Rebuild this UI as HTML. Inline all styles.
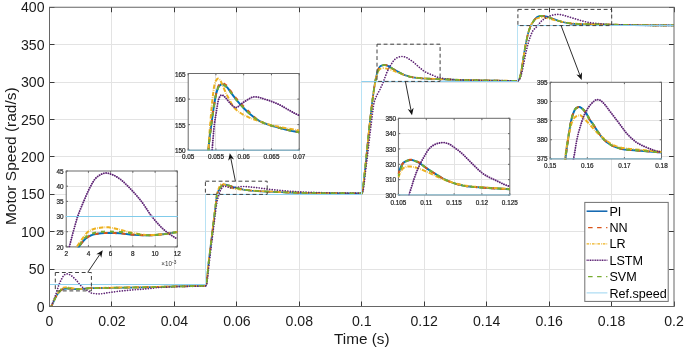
<!DOCTYPE html>
<html><head><meta charset="utf-8"><style>
html,body{margin:0;padding:0;background:#fff;}
body{width:685px;height:352px;position:relative;overflow:hidden;font-family:"Liberation Sans",sans-serif;}
</style></head><body>
<svg width="685" height="352" viewBox="0 0 685 352" style="position:absolute;left:0;top:0">
<defs>
<clipPath id="cm"><rect x="49.5" y="7.25" width="624.5" height="299.25"/></clipPath>
<clipPath id="c0"><rect x="65.60" y="170.40" width="112.30" height="77.10"/></clipPath>
<clipPath id="c1"><rect x="187.60" y="72.90" width="112.20" height="77.90"/></clipPath>
<clipPath id="c2"><rect x="397.80" y="117.70" width="112.60" height="77.90"/></clipPath>
<clipPath id="c3"><rect x="549.60" y="81.70" width="112.50" height="77.80"/></clipPath>
</defs>
<rect width="685" height="352" fill="#fff"/>
<line x1="111.50" y1="7.25" x2="111.50" y2="306.5" stroke="#e3e3e3" stroke-width="1"/>
<line x1="174.50" y1="7.25" x2="174.50" y2="306.5" stroke="#e3e3e3" stroke-width="1"/>
<line x1="236.50" y1="7.25" x2="236.50" y2="306.5" stroke="#e3e3e3" stroke-width="1"/>
<line x1="299.50" y1="7.25" x2="299.50" y2="306.5" stroke="#e3e3e3" stroke-width="1"/>
<line x1="361.50" y1="7.25" x2="361.50" y2="306.5" stroke="#e3e3e3" stroke-width="1"/>
<line x1="424.50" y1="7.25" x2="424.50" y2="306.5" stroke="#e3e3e3" stroke-width="1"/>
<line x1="486.50" y1="7.25" x2="486.50" y2="306.5" stroke="#e3e3e3" stroke-width="1"/>
<line x1="549.50" y1="7.25" x2="549.50" y2="306.5" stroke="#e3e3e3" stroke-width="1"/>
<line x1="611.50" y1="7.25" x2="611.50" y2="306.5" stroke="#e3e3e3" stroke-width="1"/>
<line x1="49.5" y1="269.50" x2="674.0" y2="269.50" stroke="#e3e3e3" stroke-width="1"/>
<line x1="49.5" y1="231.50" x2="674.0" y2="231.50" stroke="#e3e3e3" stroke-width="1"/>
<line x1="49.5" y1="194.50" x2="674.0" y2="194.50" stroke="#e3e3e3" stroke-width="1"/>
<line x1="49.5" y1="156.50" x2="674.0" y2="156.50" stroke="#e3e3e3" stroke-width="1"/>
<line x1="49.5" y1="119.50" x2="674.0" y2="119.50" stroke="#e3e3e3" stroke-width="1"/>
<line x1="49.5" y1="82.50" x2="674.0" y2="82.50" stroke="#e3e3e3" stroke-width="1"/>
<line x1="49.5" y1="44.50" x2="674.0" y2="44.50" stroke="#e3e3e3" stroke-width="1"/>
<g clip-path="url(#cm)" fill="none" stroke-linejoin="round">
<path d="M49.50,307.02L50.23,306.91L51.06,306.57L51.27,306.41L51.58,305.99L52.94,303.23L54.08,300.59L55.54,297.48L56.79,295.18L57.62,293.97L59.18,292.21L60.22,290.93L61.26,289.98L61.78,289.62L62.51,289.30L63.35,289.02L64.18,288.84L66.36,288.63L68.76,288.64L71.05,288.73L74.48,289.07L77.40,289.20L79.38,289.21L83.44,288.90L86.98,288.39L90.20,288.15L93.01,288.03L143.92,287.26L176.50,286.47L191.91,286.20L201.49,285.87L205.55,285.63L205.86,285.50L206.07,285.26L206.28,284.60L206.80,281.31L208.67,262.42L215.96,202.73L216.58,197.11L216.89,194.88L217.21,193.64L217.73,192.26L220.02,187.94L220.85,186.67L221.37,186.00L222.20,185.31L222.83,184.97L223.87,184.71L224.70,184.63L225.74,184.72L227.30,185.03L232.61,186.87L236.15,187.92L240.11,188.93L244.38,189.80L247.19,190.18L250.73,190.54L261.03,191.29L267.90,191.65L281.33,192.25L290.18,192.56L298.09,192.76L325.47,193.12L349.41,193.28L361.80,193.29L362.11,192.60L362.63,190.50L362.95,188.58L363.36,185.32L365.97,160.93L368.88,131.73L370.13,119.92L372.21,102.13L374.19,87.73L374.92,83.25L375.65,79.41L376.79,74.13L377.42,71.79L378.25,69.40L378.98,67.91L379.50,67.12L380.02,66.48L380.44,66.15L381.06,65.85L382.62,65.28L383.98,65.03L385.22,65.07L386.58,65.41L388.45,66.12L389.28,66.51L392.72,68.74L396.36,70.86L401.05,73.39L403.55,74.59L406.57,75.71L409.38,76.55L413.12,77.38L416.35,77.83L422.28,78.33L431.45,78.86L444.35,79.39L458.62,79.88L469.65,80.16L494.53,80.65L507.44,80.82L517.95,80.86L518.27,80.67L518.58,80.30L519.41,78.88L520.04,77.05L520.66,74.49L521.28,71.36L521.91,67.78L524.30,52.46L525.34,46.38L527.53,35.64L528.15,33.15L528.99,30.38L530.03,27.46L531.07,25.15L532.21,23.16L534.30,20.00L535.13,18.93L536.48,17.60L537.63,16.84L538.88,16.24L539.40,16.10L540.54,15.93L542.42,15.82L543.56,15.91L545.54,16.28L546.89,16.64L548.56,17.19L551.27,18.36L553.97,19.18L558.97,20.98L562.20,21.94L564.69,22.51L568.44,23.15L571.46,23.51L575.10,23.82L578.85,24.04L582.39,24.14L632.57,25.07L653.49,25.31L674.00,25.43" stroke="#0072BD" stroke-width="1.75"/>
<path d="M49.50,307.02L50.23,306.91L51.06,306.57L51.27,306.41L51.58,305.99L52.94,303.23L54.08,300.59L55.54,297.48L56.79,295.18L57.62,293.97L59.18,292.21L60.22,290.93L61.26,289.98L61.78,289.62L62.51,289.30L63.35,289.02L64.18,288.84L66.36,288.63L68.76,288.64L71.05,288.73L74.48,289.07L77.40,289.20L79.38,289.21L83.44,288.90L86.98,288.39L90.20,288.15L93.01,288.03L143.92,287.26L176.50,286.47L191.91,286.20L201.49,285.87L205.55,285.63L205.86,285.50L206.07,285.26L206.28,284.60L206.80,281.31L208.67,262.42L215.96,202.73L216.58,197.11L216.89,194.88L217.21,193.64L217.73,192.26L220.02,187.94L220.75,186.83L221.37,186.02L222.31,185.12L222.93,184.75L223.97,184.50L224.81,184.45L225.74,184.54L227.30,184.85L232.20,186.55L234.70,187.32L242.81,189.43L244.90,189.88L247.29,190.21L250.21,190.50L260.30,191.24L267.49,191.63L280.71,192.22L289.76,192.55L297.88,192.76L325.37,193.12L349.31,193.28L361.80,193.29L362.11,192.60L362.63,190.50L362.95,188.58L363.36,185.32L365.97,160.93L368.88,131.73L370.13,119.92L372.21,102.13L373.36,93.50L374.29,87.05L375.02,82.66L375.86,78.40L377.00,73.27L377.73,70.83L378.56,68.68L378.87,68.08L379.50,67.12L379.92,66.60L380.33,66.22L381.58,65.58L383.04,65.05L384.29,64.86L385.43,64.95L386.79,65.33L388.45,65.97L389.18,66.32L390.22,66.98L392.62,68.67L395.22,70.22L400.74,73.23L403.44,74.54L406.46,75.68L409.27,76.52L412.92,77.34L416.04,77.79L421.87,78.30L431.03,78.84L443.73,79.37L458.30,79.87L469.55,80.16L494.43,80.65L507.44,80.82L517.95,80.86L518.27,80.67L518.58,80.30L519.41,78.88L520.04,77.05L520.66,74.49L521.28,71.36L521.91,67.78L524.30,52.46L525.34,46.38L527.53,35.64L528.15,33.15L528.99,30.38L530.03,27.46L531.07,25.15L532.21,23.16L534.30,20.00L535.13,18.93L536.48,17.60L537.63,16.84L538.88,16.24L539.40,16.10L540.54,15.93L542.42,15.82L543.56,15.91L545.54,16.28L546.89,16.64L548.56,17.19L551.27,18.36L553.97,19.18L558.97,20.98L562.20,21.94L564.69,22.51L568.44,23.15L571.46,23.51L575.10,23.82L578.85,24.04L582.39,24.14L632.57,25.07L653.49,25.31L674.00,25.43" stroke="#D95319" stroke-width="1.75" stroke-dasharray="4.5 5"/>
<path d="M49.50,307.02L50.12,306.94L50.85,306.67L51.17,306.51L51.48,306.13L52.94,303.06L55.12,298.06L56.16,295.98L57.62,293.53L59.70,290.76L61.26,288.89L61.89,288.31L62.62,287.95L63.35,287.69L65.22,287.34L66.68,287.20L67.93,287.26L70.84,287.80L74.38,288.60L77.40,289.06L79.27,289.14L83.44,288.90L86.46,288.45L88.33,288.29L91.45,288.09L94.99,287.96L106.03,287.74L144.75,287.17L176.40,286.40L192.22,286.12L201.70,285.79L205.55,285.56L205.86,285.43L206.07,285.19L206.28,284.51L206.80,281.16L208.67,261.90L215.23,207.73L216.79,195.44L217.10,193.75L217.52,192.08L218.35,189.36L219.08,187.33L219.81,185.66L220.23,184.95L220.85,184.33L221.47,184.02L221.99,183.86L222.41,183.81L222.93,183.86L223.66,184.06L224.60,184.54L226.78,185.87L229.70,187.34L231.36,188.02L233.24,188.49L236.46,189.05L240.63,189.57L252.29,190.60L259.16,190.99L284.35,192.18L297.88,192.68L311.52,192.94L325.37,193.12L348.48,193.27L361.80,193.29L362.11,192.60L362.63,190.50L362.95,188.58L363.36,185.32L365.97,160.91L368.78,132.69L370.03,120.85L372.00,104.06L373.88,90.44L374.71,85.20L375.54,80.62L376.17,77.72L377.00,74.54L377.73,72.53L378.56,70.79L378.98,70.17L379.60,69.42L380.02,69.03L380.44,68.77L381.89,68.29L383.04,68.15L384.81,68.28L387.62,68.78L388.87,69.13L390.43,69.66L393.97,70.99L397.92,72.63L401.57,74.06L403.44,74.73L405.63,75.41L408.86,76.28L413.02,77.21L415.10,77.53L418.75,77.91L425.30,78.38L433.53,78.80L450.39,79.49L463.09,79.92L495.88,80.60L508.06,80.75L517.95,80.78L518.27,80.61L518.58,80.26L519.41,78.90L520.04,77.10L520.66,74.56L521.28,71.43L521.91,67.85L524.41,51.83L525.45,45.83L527.63,35.28L528.57,31.59L529.51,28.31L530.13,26.55L530.76,25.24L531.69,23.67L532.74,22.25L534.51,20.24L535.55,19.24L536.38,18.70L537.84,18.04L538.88,17.76L540.75,17.53L542.62,17.43L543.77,17.49L548.04,18.44L556.26,20.57L564.28,22.21L567.82,22.82L570.21,23.15L573.65,23.49L577.39,23.74L585.20,24.00L633.82,25.08L655.05,25.33L674.00,25.43" stroke="#EDB120" stroke-width="1.75" stroke-dasharray="4 1.5 1 1.5"/>
<path d="M49.50,307.02L50.23,306.87L51.06,306.43L51.27,306.21L51.58,305.63L52.73,302.45L54.50,298.05L55.64,294.99L56.79,291.48L58.24,286.65L58.87,284.82L59.81,282.62L61.78,278.57L63.03,276.40L63.87,275.30L64.49,274.78L65.12,274.40L65.95,274.03L66.68,273.87L67.09,273.85L67.61,273.93L68.65,274.23L69.59,274.61L70.84,275.32L72.30,276.41L74.48,278.38L76.46,280.38L77.40,281.45L79.48,284.19L80.83,285.65L82.50,287.25L84.06,288.47L87.18,290.25L89.89,292.27L91.04,292.91L91.66,293.11L93.43,293.44L96.45,293.83L98.95,293.93L101.45,293.79L104.15,293.42L111.02,292.22L122.06,290.88L129.24,290.19L145.48,288.98L155.16,287.86L158.49,287.54L167.97,287.01L180.67,286.52L196.07,286.25L200.86,286.11L205.55,285.86L205.96,285.66L206.38,285.23L206.59,284.64L206.90,283.16L207.32,280.34L209.29,262.22L215.75,210.38L216.37,205.73L216.89,202.47L217.31,200.42L217.93,197.97L219.70,192.25L220.23,190.78L220.75,189.78L222.31,187.31L222.93,186.71L223.45,186.42L224.29,186.20L225.53,186.31L227.10,186.74L229.49,187.50L231.26,187.93L232.30,188.05L233.55,187.94L236.57,187.29L241.15,186.58L243.02,186.46L245.63,186.56L255.41,187.44L266.86,189.05L278.11,190.22L290.49,191.27L301.84,191.94L315.37,192.53L327.14,192.87L349.21,193.17L360.55,193.23L361.91,193.19L362.11,193.00L362.43,192.52L362.74,191.93L362.95,191.33L363.36,189.41L363.88,185.97L365.55,171.67L367.32,157.31L370.23,132.16L372.84,110.77L373.67,104.75L374.29,101.68L375.02,99.47L376.48,96.09L378.04,92.96L380.02,89.38L382.73,83.43L383.56,81.38L385.02,77.24L386.68,72.81L387.62,70.64L388.76,68.32L390.43,65.40L393.66,60.60L394.70,59.44L395.53,58.67L396.36,58.12L397.61,57.47L398.45,57.14L399.28,56.91L400.94,56.59L402.19,56.48L403.03,56.52L403.96,56.68L405.52,57.09L406.15,57.34L406.98,57.80L410.42,59.97L412.81,61.64L414.16,62.76L419.58,67.53L422.18,69.72L423.64,70.87L424.89,71.71L426.45,72.56L428.43,73.50L432.28,75.06L436.03,76.66L438.32,77.49L440.29,77.97L445.19,78.81L449.98,79.42L454.14,79.75L459.97,80.00L470.07,80.30L481.73,80.51L503.07,80.73L517.95,80.79L518.27,80.67L518.68,80.33L519.72,79.02L520.35,77.69L521.08,75.50L521.80,72.74L522.64,69.07L525.76,53.39L527.11,47.40L528.36,42.68L529.09,40.24L530.86,35.12L532.11,32.15L532.84,30.85L533.67,29.74L534.51,28.85L536.48,27.06L537.32,26.22L538.04,25.32L540.13,22.43L541.58,20.93L543.46,19.39L545.85,17.78L547.52,16.89L549.70,16.02L551.27,15.51L552.93,15.07L556.26,14.43L557.82,14.37L560.32,14.54L561.68,14.80L564.38,15.48L581.14,20.66L583.02,21.17L586.35,21.94L589.78,22.60L593.74,23.16L599.78,23.79L605.50,24.30L609.04,24.53L612.48,24.68L629.34,25.10L654.22,25.40L674.00,25.50" stroke="#5E2475" stroke-width="1.7" stroke-dasharray="0.01 2.6" stroke-linecap="round"/>
<path d="M49.50,307.02L50.12,306.94L50.75,306.72L51.17,306.51L51.48,306.15L52.83,303.46L55.23,298.11L56.47,295.72L57.31,294.38L59.18,292.21L60.22,290.62L60.95,289.88L61.78,289.28L63.03,288.77L64.18,288.51L66.68,288.29L70.63,288.37L74.69,288.75L77.71,289.16L79.27,289.21L83.44,288.90L86.98,288.39L90.20,288.15L93.01,288.03L143.92,287.26L176.50,286.47L191.91,286.20L201.49,285.87L205.55,285.63L205.86,285.50L206.07,285.26L206.28,284.60L206.80,281.31L208.67,262.42L215.96,202.73L216.58,197.11L216.89,194.88L217.21,193.64L217.73,192.26L220.02,187.94L220.85,186.67L221.37,186.00L222.20,185.31L222.83,184.97L223.87,184.71L224.70,184.63L225.74,184.72L227.30,185.03L232.61,186.87L236.15,187.92L240.11,188.93L244.38,189.80L247.19,190.18L250.73,190.54L261.03,191.29L267.90,191.65L281.33,192.25L290.18,192.56L298.09,192.76L325.47,193.12L349.41,193.28L361.80,193.29L362.11,192.60L362.63,190.50L362.95,188.58L363.36,185.32L365.97,160.93L368.88,131.73L370.13,119.92L372.21,102.13L374.19,87.73L374.92,83.25L375.75,78.82L376.38,76.16L377.10,73.64L378.35,70.18L379.81,67.00L380.33,66.24L381.27,65.74L382.73,65.23L384.08,65.02L385.33,65.08L386.68,65.45L388.45,66.12L389.28,66.51L392.72,68.74L396.36,70.86L401.05,73.39L403.55,74.59L406.57,75.71L409.38,76.55L413.02,77.36L416.25,77.82L422.08,78.32L431.34,78.85L444.15,79.39L458.51,79.88L469.55,80.16L494.53,80.65L507.44,80.82L517.95,80.86L518.27,80.67L518.58,80.30L519.41,78.88L520.04,77.05L520.66,74.49L521.28,71.36L521.91,67.78L524.30,52.46L525.34,46.38L527.53,35.64L528.15,33.15L528.99,30.38L530.03,27.46L531.07,25.15L532.21,23.16L534.30,20.00L535.13,18.93L536.48,17.60L537.63,16.84L538.88,16.24L539.40,16.10L540.54,15.93L542.42,15.82L543.56,15.91L545.54,16.28L546.89,16.64L548.56,17.19L551.27,18.36L553.97,19.18L558.97,20.98L562.20,21.94L564.69,22.51L568.44,23.15L571.46,23.51L575.10,23.82L578.85,24.04L582.39,24.14L632.57,25.07L653.49,25.31L674.00,25.43" stroke="#77AC30" stroke-width="1.75" stroke-dasharray="4.5 5" stroke-dashoffset="1.5"/>
<path d="M205.5,284.5V194.5M361.5,194.5V81.5M517.5,81.5V25.5" stroke="#b8e2f4" stroke-width="1" fill="none"/>
<path d="M49.5,284.5H205.5M205.5,194.5H361.5M361.5,81.5H517.5M517.5,25.5H674" stroke="#8fd0ee" stroke-width="1" fill="none"/>
</g>
<path d="M49.50,306.5v-5M49.50,7.25v5M111.50,306.5v-5M111.50,7.25v5M174.50,306.5v-5M174.50,7.25v5M236.50,306.5v-5M236.50,7.25v5M299.50,306.5v-5M299.50,7.25v5M361.50,306.5v-5M361.50,7.25v5M424.50,306.5v-5M424.50,7.25v5M486.50,306.5v-5M486.50,7.25v5M549.50,306.5v-5M549.50,7.25v5M611.50,306.5v-5M611.50,7.25v5M674.50,306.5v-5M674.50,7.25v5M49.5,306.50h5M674.0,306.50h-5M49.5,269.50h5M674.0,269.50h-5M49.5,231.50h5M674.0,231.50h-5M49.5,194.50h5M674.0,194.50h-5M49.5,156.50h5M674.0,156.50h-5M49.5,119.50h5M674.0,119.50h-5M49.5,82.50h5M674.0,82.50h-5M49.5,44.50h5M674.0,44.50h-5M49.5,7.50h5M674.0,7.50h-5" stroke="#3a3a3a" stroke-width="1" fill="none"/>
<rect x="49.5" y="7.25" width="624.5" height="299.25" fill="none" stroke="#666" stroke-width="1"/>
<rect x="55.3" y="272.5" width="36.10" height="18.40" fill="none" stroke="#404040" stroke-width="1" stroke-dasharray="3.9 2.7"/>
<rect x="205.4" y="181.2" width="61.80" height="13.20" fill="none" stroke="#404040" stroke-width="1" stroke-dasharray="3.9 2.7"/>
<rect x="377.0" y="44.2" width="63.10" height="37.20" fill="none" stroke="#404040" stroke-width="1" stroke-dasharray="3.9 2.7"/>
<rect x="517.9" y="9.4" width="93.80" height="16.20" fill="none" stroke="#404040" stroke-width="1" stroke-dasharray="3.9 2.7"/>
<line x1="87.7" y1="272.4" x2="99.90" y2="254.34" stroke="#222" stroke-width="0.95"/>
<path d="M102.7,250.2L101.27,257.68L99.90,254.34L96.30,254.32Z" fill="#111"/>
<line x1="235.4" y1="181.2" x2="230.78" y2="158.10" stroke="#222" stroke-width="0.95"/>
<path d="M229.8,153.2L234.11,159.48L230.78,158.10L228.23,160.65Z" fill="#111"/>
<line x1="405.4" y1="81.4" x2="411.04" y2="110.39" stroke="#222" stroke-width="0.95"/>
<path d="M412.0,115.3L407.72,109.00L411.04,110.39L413.61,107.86Z" fill="#111"/>
<line x1="561.0" y1="25.4" x2="579.92" y2="75.23" stroke="#222" stroke-width="0.95"/>
<path d="M581.7,79.9L576.41,74.42L579.92,75.23L582.02,72.29Z" fill="#111"/>
<rect x="66.2" y="171.0" width="111.10" height="75.90" fill="#fff"/>
<line x1="88.50" y1="171.0" x2="88.50" y2="246.9" stroke="#e3e3e3" stroke-width="1"/>
<line x1="110.50" y1="171.0" x2="110.50" y2="246.9" stroke="#e3e3e3" stroke-width="1"/>
<line x1="132.50" y1="171.0" x2="132.50" y2="246.9" stroke="#e3e3e3" stroke-width="1"/>
<line x1="155.50" y1="171.0" x2="155.50" y2="246.9" stroke="#e3e3e3" stroke-width="1"/>
<line x1="66.2" y1="231.50" x2="177.3" y2="231.50" stroke="#e3e3e3" stroke-width="1"/>
<line x1="66.2" y1="216.50" x2="177.3" y2="216.50" stroke="#e3e3e3" stroke-width="1"/>
<line x1="66.2" y1="201.50" x2="177.3" y2="201.50" stroke="#e3e3e3" stroke-width="1"/>
<line x1="66.2" y1="186.50" x2="177.3" y2="186.50" stroke="#e3e3e3" stroke-width="1"/>
<path d="M66.20,246.9v-1.8M66.20,171.0v1.8M88.42,246.9v-1.8M88.42,171.0v1.8M110.64,246.9v-1.8M110.64,171.0v1.8M132.86,246.9v-1.8M132.86,171.0v1.8M155.08,246.9v-1.8M155.08,171.0v1.8M177.30,246.9v-1.8M177.30,171.0v1.8M66.2,246.90h1.8M177.3,246.90h-1.8M66.2,231.72h1.8M177.3,231.72h-1.8M66.2,216.54h1.8M177.3,216.54h-1.8M66.2,201.36h1.8M177.3,201.36h-1.8M66.2,186.18h1.8M177.3,186.18h-1.8M66.2,171.00h1.8M177.3,171.00h-1.8" stroke="#444" stroke-width="0.8" fill="none"/>
<rect x="66.2" y="171.0" width="111.10" height="75.90" fill="none" stroke="#6a6a6a" stroke-width="1"/>
<g clip-path="url(#c0)" fill="none" stroke-linejoin="round">
<path d="M66.20,267.24L69.46,260.42L70.72,258.06L71.91,256.07L73.98,253.12L78.43,247.50L81.17,243.57L82.36,242.01L83.77,240.48L85.17,239.06L86.36,237.99L87.40,237.20L88.36,236.61L90.14,235.74L91.70,235.09L93.25,234.54L94.59,234.16L95.85,233.90L101.11,233.21L104.81,232.96L108.89,232.95L114.67,233.10L120.01,233.33L122.97,233.62L130.09,234.52L133.94,234.82L143.58,235.28L147.43,235.36L150.40,235.33L155.88,234.99L164.70,234.06L167.59,233.63L174.19,232.44L177.30,232.02" stroke="#0072BD" stroke-width="2.0"/>
<path d="M66.20,267.24L69.46,260.42L70.72,258.06L71.91,256.07L73.98,253.12L78.43,247.50L81.17,243.57L82.36,242.01L83.77,240.48L85.17,239.06L86.36,237.99L87.40,237.20L88.36,236.61L90.14,235.74L91.70,235.09L93.25,234.54L94.59,234.16L95.85,233.90L101.11,233.21L104.81,232.96L108.89,232.95L114.67,233.10L120.01,233.33L122.97,233.62L130.09,234.52L133.94,234.82L143.58,235.28L147.43,235.36L150.40,235.33L155.88,234.99L164.70,234.06L167.59,233.63L174.19,232.44L177.30,232.02" stroke="#D95319" stroke-width="2.0" stroke-dasharray="4 5"/>
<path d="M66.20,266.03L68.20,261.71L69.98,258.11L71.61,255.05L73.32,252.14L75.61,248.54L79.54,242.69L85.54,234.40L87.03,232.60L87.69,231.95L88.29,231.50L89.62,230.73L91.03,230.03L92.44,229.44L93.85,228.96L95.40,228.55L97.33,228.17L100.07,227.70L102.37,227.39L104.15,227.23L105.85,227.17L107.26,227.19L108.74,227.32L112.08,227.87L119.86,229.61L128.68,232.00L131.94,232.76L141.50,234.48L144.47,234.85L147.13,235.04L150.32,235.04L154.25,234.89L158.47,234.61L164.40,234.11L167.59,233.67L174.56,232.39L177.30,232.02" stroke="#EDB120" stroke-width="2.0" stroke-dasharray="4.5 1.2 0.6 1.2"/>
<path d="M66.20,257.59L69.91,244.56L75.09,224.95L76.28,220.82L77.32,217.51L78.80,213.30L80.58,208.76L85.99,196.00L87.84,191.79L89.32,188.71L92.36,182.92L93.85,180.49L95.11,178.87L96.14,177.81L97.18,176.89L98.29,176.04L99.40,175.32L101.11,174.37L102.44,173.75L103.55,173.37L104.96,173.09L106.45,172.98L107.19,173.06L108.08,173.24L111.71,174.39L114.38,175.53L116.45,176.61L118.45,177.91L121.64,180.32L123.71,182.10L127.42,185.69L131.79,190.20L135.50,194.26L138.98,198.34L141.50,201.47L142.98,203.48L144.69,205.99L148.91,212.48L151.14,215.62L155.51,220.94L159.59,225.51L161.51,227.49L163.37,229.28L165.22,230.92L166.92,232.29L169.81,234.31L175.15,237.60L177.30,239.01" stroke="#5E2475" stroke-width="1.9" stroke-dasharray="0.01 2.3" stroke-linecap="round"/>
<path d="M66.20,267.24L69.24,260.86L70.42,258.59L71.54,256.66L73.32,254.05L76.87,249.63L78.28,247.71L79.32,246.04L81.54,242.00L82.65,240.33L83.84,238.98L85.10,237.69L86.21,236.70L87.32,235.87L88.36,235.24L90.14,234.38L91.70,233.72L93.25,233.17L95.03,232.69L96.81,232.39L100.66,231.89L103.85,231.63L105.93,231.57L109.26,231.59L117.86,231.85L121.79,232.09L126.60,232.61L134.46,233.60L141.50,234.74L144.32,235.12L146.84,235.32L149.28,235.36L152.10,235.26L155.21,235.05L164.55,234.08L167.52,233.64L174.19,232.44L177.30,232.02" stroke="#77AC30" stroke-width="2.0" stroke-dasharray="4 5" stroke-dashoffset="1.5"/>
<path d="M43.98,216.54 L599.48,216.54 L599.48,-147.78 L1154.98,-147.78 L1154.98,-603.18 L1710.48,-603.18 L1710.48,-830.88 L2265.98,-830.88" stroke="#80cbea" stroke-width="1.05"/>
</g>
<rect x="188.2" y="73.5" width="111.00" height="76.70" fill="#fff"/>
<line x1="215.50" y1="73.5" x2="215.50" y2="150.2" stroke="#e3e3e3" stroke-width="1"/>
<line x1="243.50" y1="73.5" x2="243.50" y2="150.2" stroke="#e3e3e3" stroke-width="1"/>
<line x1="271.50" y1="73.5" x2="271.50" y2="150.2" stroke="#e3e3e3" stroke-width="1"/>
<line x1="188.2" y1="124.50" x2="299.2" y2="124.50" stroke="#e3e3e3" stroke-width="1"/>
<line x1="188.2" y1="99.50" x2="299.2" y2="99.50" stroke="#e3e3e3" stroke-width="1"/>
<path d="M188.20,150.2v-1.8M188.20,73.5v1.8M215.95,150.2v-1.8M215.95,73.5v1.8M243.70,150.2v-1.8M243.70,73.5v1.8M271.45,150.2v-1.8M271.45,73.5v1.8M299.20,150.2v-1.8M299.20,73.5v1.8M188.2,150.20h1.8M299.2,150.20h-1.8M188.2,124.63h1.8M299.2,124.63h-1.8M188.2,99.07h1.8M299.2,99.07h-1.8M188.2,73.50h1.8M299.2,73.50h-1.8" stroke="#444" stroke-width="0.8" fill="none"/>
<rect x="188.2" y="73.5" width="111.00" height="76.70" fill="none" stroke="#6a6a6a" stroke-width="1"/>
<g clip-path="url(#c1)" fill="none" stroke-linejoin="round">
<path d="M188.20,770.96L188.42,770.83L188.64,770.60L188.87,770.14L189.09,768.66L189.31,766.09L189.83,756.34L190.35,742.16L191.16,713.36L192.87,643.41L193.61,616.12L206.56,207.97L207.60,171.93L208.05,158.62L208.27,153.49L208.56,148.71L209.08,142.38L209.67,136.66L212.86,113.09L213.75,107.09L214.56,102.14L215.60,96.36L216.26,93.30L217.30,89.90L218.19,87.61L218.56,86.90L218.93,86.36L219.89,85.38L220.71,84.73L221.30,84.40L221.82,84.25L222.41,84.26L223.00,84.41L223.82,84.79L224.78,85.43L226.63,86.91L227.37,87.65L228.56,89.17L231.30,93.19L236.41,99.86L240.26,104.33L244.33,108.71L247.37,111.72L250.25,114.32L254.25,117.60L255.81,118.75L257.21,119.69L258.47,120.43L260.25,121.34L264.10,123.07L268.17,124.59L272.99,126.12L279.21,127.89L285.57,129.49L292.24,130.96L299.20,132.30" stroke="#0072BD" stroke-width="2.0"/>
<path d="M188.20,770.96L188.42,770.83L188.64,770.60L188.87,770.14L189.09,768.66L189.31,766.09L189.83,756.34L190.35,742.16L191.16,713.36L192.87,643.41L193.61,616.12L206.56,207.97L207.60,171.93L208.05,158.62L208.27,153.49L208.56,148.71L209.08,142.38L209.67,136.66L212.86,113.09L213.75,107.09L214.56,102.14L215.52,96.85L216.26,93.37L217.60,88.40L218.41,86.04L218.71,85.43L219.00,85.00L219.97,84.02L220.78,83.38L221.37,83.09L221.89,82.97L222.41,82.99L223.00,83.13L223.89,83.55L224.85,84.21L226.63,85.63L227.45,86.45L228.56,87.89L231.22,91.81L235.81,97.84L238.26,100.79L241.74,104.60L245.66,108.60L254.62,117.33L256.47,118.98L258.10,120.19L259.36,120.92L261.06,121.79L264.54,123.31L268.40,124.69L274.02,126.43L279.95,128.08L286.09,129.61L292.46,131.00L299.20,132.30" stroke="#D95319" stroke-width="2.0" stroke-dasharray="4 5"/>
<path d="M188.20,770.45L188.42,770.32L188.64,770.09L188.87,769.62L189.01,768.74L189.24,766.49L189.76,757.27L190.27,743.36L191.09,714.56L192.87,640.33L193.68,610.13L205.23,243.31L207.90,161.92L208.34,151.39L208.86,142.20L209.45,133.61L210.41,121.44L211.30,111.05L212.12,102.67L213.23,92.77L213.97,87.40L214.34,85.54L214.93,83.24L215.45,81.68L215.89,80.75L216.93,79.32L217.30,78.95L217.67,78.71L218.04,78.61L218.41,78.68L218.78,78.87L219.23,79.22L220.19,80.24L220.71,81.07L222.19,84.21L224.78,90.53L226.85,94.89L230.85,102.52L232.33,105.01L233.52,106.82L234.26,107.75L235.52,109.06L236.78,110.21L238.18,111.35L239.66,112.41L241.37,113.50L243.14,114.54L245.07,115.56L249.36,117.56L253.66,119.29L264.62,123.10L269.88,124.73L274.99,125.98L281.06,127.27L287.35,128.44L299.20,130.51" stroke="#EDB120" stroke-width="2.0" stroke-dasharray="4.5 1.2 0.6 1.2"/>
<path d="M188.20,772.49L188.50,772.31L188.79,771.94L189.38,770.74L189.61,769.49L189.83,767.38L190.13,763.32L190.50,756.42L191.16,739.70L192.05,711.00L193.90,642.31L194.64,617.08L203.68,339.88L206.19,260.23L207.16,232.38L207.97,211.90L208.71,196.64L209.75,180.05L210.64,168.23L213.60,131.91L214.12,126.57L214.71,121.84L215.23,118.46L216.49,111.11L217.52,104.34L217.89,102.34L218.19,101.12L218.78,99.02L219.30,97.54L219.75,96.64L220.41,95.74L220.93,95.21L221.37,94.99L221.89,95.02L222.56,95.22L223.37,95.60L223.97,96.04L226.48,98.77L229.37,102.42L230.63,103.84L232.93,106.06L233.81,106.83L234.70,107.38L235.52,107.60L236.11,107.57L236.70,107.42L237.29,107.17L237.96,106.78L239.15,105.90L241.89,103.46L243.07,102.53L248.55,99.08L250.48,97.99L252.10,97.28L253.59,96.88L254.84,96.77L256.62,96.89L258.18,97.18L259.95,97.64L268.62,100.42L272.76,101.88L276.76,103.48L279.35,104.70L282.17,106.17L291.13,111.34L294.09,112.98L296.76,114.33L299.20,115.43" stroke="#5E2475" stroke-width="1.9" stroke-dasharray="0.01 2.3" stroke-linecap="round"/>
<path d="M188.20,770.96L188.42,770.83L188.64,770.60L188.87,770.14L189.09,768.66L189.31,766.09L189.83,756.34L190.35,742.16L191.16,713.36L192.87,643.41L193.61,616.12L206.56,207.97L207.60,171.93L208.05,158.62L208.27,153.49L208.56,148.71L209.08,142.38L209.67,136.66L212.86,113.09L213.75,107.09L214.56,102.14L215.60,96.36L216.26,93.30L217.30,89.90L218.19,87.61L218.56,86.90L218.93,86.36L219.89,85.38L220.71,84.73L221.30,84.40L221.82,84.25L222.41,84.26L223.00,84.41L223.82,84.79L224.78,85.43L226.63,86.91L227.37,87.65L228.56,89.17L231.30,93.19L236.41,99.86L240.26,104.33L244.33,108.71L247.37,111.72L250.25,114.32L254.25,117.60L255.81,118.75L257.21,119.69L258.47,120.43L260.25,121.34L264.10,123.07L268.17,124.59L272.99,126.12L279.21,127.89L285.57,129.49L292.24,130.96L299.20,132.30" stroke="#77AC30" stroke-width="2.0" stroke-dasharray="4 5" stroke-dashoffset="1.5"/>
<path d="M-89.30,763.80 L188.20,763.80 L188.20,150.20 L465.70,150.20 L465.70,-616.80 L743.20,-616.80 L743.20,-1000.30 L1020.70,-1000.30" stroke="#80cbea" stroke-width="1.05"/>
</g>
<rect x="398.4" y="118.3" width="111.40" height="76.70" fill="#fff"/>
<line x1="426.50" y1="118.3" x2="426.50" y2="195.0" stroke="#e3e3e3" stroke-width="1"/>
<line x1="454.50" y1="118.3" x2="454.50" y2="195.0" stroke="#e3e3e3" stroke-width="1"/>
<line x1="481.50" y1="118.3" x2="481.50" y2="195.0" stroke="#e3e3e3" stroke-width="1"/>
<line x1="398.4" y1="179.50" x2="509.8" y2="179.50" stroke="#e3e3e3" stroke-width="1"/>
<line x1="398.4" y1="164.50" x2="509.8" y2="164.50" stroke="#e3e3e3" stroke-width="1"/>
<line x1="398.4" y1="148.50" x2="509.8" y2="148.50" stroke="#e3e3e3" stroke-width="1"/>
<line x1="398.4" y1="133.50" x2="509.8" y2="133.50" stroke="#e3e3e3" stroke-width="1"/>
<path d="M398.40,195.0v-1.8M398.40,118.3v1.8M426.25,195.0v-1.8M426.25,118.3v1.8M454.10,195.0v-1.8M454.10,118.3v1.8M481.95,195.0v-1.8M481.95,118.3v1.8M509.80,195.0v-1.8M509.80,118.3v1.8M398.4,195.00h1.8M509.8,195.00h-1.8M398.4,179.66h1.8M509.8,179.66h-1.8M398.4,164.32h1.8M509.8,164.32h-1.8M398.4,148.98h1.8M509.8,148.98h-1.8M398.4,133.64h1.8M509.8,133.64h-1.8M398.4,118.30h1.8M509.8,118.30h-1.8" stroke="#444" stroke-width="0.8" fill="none"/>
<rect x="398.4" y="118.3" width="111.40" height="76.70" fill="none" stroke="#6a6a6a" stroke-width="1"/>
<g clip-path="url(#c2)" fill="none" stroke-linejoin="round">
<path d="M398.40,174.29L399.66,169.99L400.70,167.17L401.15,166.23L402.12,164.51L402.71,163.60L403.30,162.87L403.90,162.37L405.16,161.68L406.50,161.06L407.84,160.56L408.95,160.27L410.07,160.08L411.11,160.02L412.07,160.09L413.41,160.38L414.90,160.89L418.09,162.26L419.36,162.93L421.29,164.24L425.75,167.65L430.80,171.05L435.71,174.20L440.46,177.11L443.14,178.65L445.52,179.86L449.08,181.42L452.28,182.64L455.25,183.62L459.64,184.81L463.28,185.62L466.92,186.18L471.90,186.76L478.81,187.37L488.25,188.04L498.06,188.60L509.80,189.17" stroke="#0072BD" stroke-width="2.0"/>
<path d="M398.40,174.29L399.66,169.99L400.70,167.17L401.15,166.23L402.04,164.64L402.71,163.62L403.30,162.89L403.90,162.37L405.31,161.53L406.65,160.84L407.91,160.32L409.03,159.98L410.07,159.79L411.11,159.72L412.07,159.79L413.41,160.07L414.90,160.57L418.09,161.96L419.21,162.56L421.14,163.92L425.53,167.48L428.72,169.69L434.74,173.60L440.17,176.94L442.84,178.49L445.37,179.79L448.79,181.29L452.06,182.56L455.10,183.57L459.56,184.79L463.20,185.61L466.85,186.17L471.82,186.75L478.74,187.37L488.25,188.04L498.06,188.60L509.80,189.17" stroke="#D95319" stroke-width="2.0" stroke-dasharray="4 5"/>
<path d="M398.40,177.36L399.59,174.03L400.63,171.71L401.15,170.82L401.97,169.64L402.56,168.88L403.16,168.26L403.68,167.86L404.35,167.53L405.61,167.02L406.72,166.69L407.54,166.53L408.28,166.47L410.29,166.57L412.30,166.85L415.57,167.48L417.13,167.89L418.84,168.45L421.36,169.43L427.46,172.05L435.78,175.98L441.50,178.55L444.85,179.94L448.79,181.34L452.80,182.62L457.93,184.04L461.72,184.98L464.47,185.52L467.89,186.00L472.34,186.50L477.47,186.96L491.44,187.92L509.80,188.86" stroke="#EDB120" stroke-width="2.0" stroke-dasharray="4.5 1.2 0.6 1.2"/>
<path d="M398.40,220.04L399.89,216.74L402.04,212.40L403.01,210.30L407.39,199.31L409.32,193.99L412.22,184.58L414.30,178.16L415.57,174.50L416.61,171.79L417.87,168.76L419.13,165.96L420.55,163.05L422.26,159.86L426.71,152.15L427.68,150.69L429.24,148.71L430.80,147.05L431.47,146.48L432.21,145.95L433.48,145.15L434.67,144.50L435.78,143.99L436.90,143.59L439.13,143.04L440.83,142.71L442.32,142.55L443.58,142.56L445.00,142.75L446.71,143.18L448.79,143.86L450.05,144.47L451.39,145.36L457.63,149.90L459.79,151.57L461.64,153.13L464.02,155.38L473.61,165.10L478.14,169.49L480.82,171.94L482.90,173.57L484.53,174.66L486.32,175.73L488.77,177.07L490.78,178.08L496.05,180.49L501.92,183.39L504.45,184.57L507.27,185.68L509.80,186.41" stroke="#5E2475" stroke-width="1.9" stroke-dasharray="0.01 2.3" stroke-linecap="round"/>
<path d="M398.40,176.13L399.59,172.32L400.70,169.20L402.64,164.41L403.16,163.35L403.60,162.67L403.97,162.32L405.31,161.56L406.50,161.01L407.69,160.57L408.80,160.27L409.84,160.10L410.96,160.03L411.93,160.07L413.26,160.34L414.82,160.86L418.09,162.26L419.36,162.93L421.29,164.24L425.75,167.65L430.88,171.10L434.37,173.36L438.75,176.07L443.21,178.69L445.59,179.90L449.23,181.48L452.35,182.67L455.33,183.64L459.71,184.83L463.35,185.63L467.07,186.20L471.97,186.77L478.88,187.38L488.32,188.04L498.13,188.61L509.80,189.17" stroke="#77AC30" stroke-width="2.0" stroke-dasharray="4 5" stroke-dashoffset="1.5"/>
<path d="M-186.45,609.18 L92.05,609.18 L92.05,425.10 L370.55,425.10 L370.55,195.00 L649.05,195.00 L649.05,79.95 L927.55,79.95" stroke="#80cbea" stroke-width="1.05"/>
</g>
<rect x="550.2" y="82.3" width="111.30" height="76.60" fill="#fff"/>
<line x1="587.50" y1="82.3" x2="587.50" y2="158.9" stroke="#e3e3e3" stroke-width="1"/>
<line x1="624.50" y1="82.3" x2="624.50" y2="158.9" stroke="#e3e3e3" stroke-width="1"/>
<line x1="550.2" y1="139.50" x2="661.5" y2="139.50" stroke="#e3e3e3" stroke-width="1"/>
<line x1="550.2" y1="120.50" x2="661.5" y2="120.50" stroke="#e3e3e3" stroke-width="1"/>
<line x1="550.2" y1="101.50" x2="661.5" y2="101.50" stroke="#e3e3e3" stroke-width="1"/>
<path d="M550.20,158.9v-1.8M550.20,82.3v1.8M587.30,158.9v-1.8M587.30,82.3v1.8M624.40,158.9v-1.8M624.40,82.3v1.8M661.50,158.9v-1.8M661.50,82.3v1.8M550.2,158.90h1.8M661.5,158.90h-1.8M550.2,139.75h1.8M661.5,139.75h-1.8M550.2,120.60h1.8M661.5,120.60h-1.8M550.2,101.45h1.8M661.5,101.45h-1.8M550.2,82.30h1.8M661.5,82.30h-1.8" stroke="#444" stroke-width="0.8" fill="none"/>
<rect x="550.2" y="82.3" width="111.30" height="76.60" fill="none" stroke="#6a6a6a" stroke-width="1"/>
<g clip-path="url(#c3)" fill="none" stroke-linejoin="round">
<path d="M550.20,440.02L550.35,439.91L550.57,439.37L550.94,437.69L551.68,432.74L552.06,429.54L552.80,419.97L553.54,406.74L554.21,392.30L555.03,372.16L557.85,294.34L558.96,266.11L561.41,213.54L562.15,199.90L562.90,188.59L563.86,175.67L564.75,165.41L565.64,156.81L566.68,148.51L569.13,132.08L570.32,124.89L570.92,121.93L571.81,118.04L572.47,115.55L573.07,113.76L573.96,111.55L574.70,109.96L575.30,108.98L575.89,108.36L576.78,107.80L577.60,107.39L578.34,107.13L579.08,107.01L579.60,107.03L580.12,107.19L580.72,107.51L581.46,108.04L582.94,109.29L583.69,110.02L584.65,111.17L585.69,112.59L587.18,114.86L589.18,118.80L589.92,120.09L592.89,123.95L597.87,131.75L600.17,135.09L601.58,136.90L603.07,138.59L604.48,140.05L605.66,141.13L607.22,142.38L609.01,143.69L610.64,144.75L612.20,145.62L613.91,146.42L616.28,147.37L618.73,148.15L621.93,148.94L624.60,149.39L631.06,149.99L643.68,150.91L661.50,152.39" stroke="#0072BD" stroke-width="2.0"/>
<path d="M550.20,440.02L550.35,439.91L550.57,439.37L550.94,437.69L551.68,432.74L552.06,429.54L552.80,419.97L553.54,406.74L554.21,392.30L555.03,372.16L557.85,294.34L558.96,266.11L561.41,213.54L562.15,199.90L562.90,188.59L563.86,175.67L564.75,165.41L565.64,156.81L566.68,148.51L569.13,132.08L570.32,124.89L570.92,121.93L571.81,118.04L572.47,115.55L573.07,113.76L573.96,111.55L574.70,109.96L575.30,108.98L575.89,108.36L576.78,107.80L577.60,107.39L578.34,107.13L579.08,107.01L579.60,107.03L580.12,107.19L580.72,107.51L581.46,108.04L582.94,109.29L583.69,110.02L584.65,111.17L585.69,112.59L587.18,114.86L589.18,118.80L589.92,120.09L592.89,123.95L597.87,131.75L600.17,135.09L601.58,136.90L603.07,138.59L604.48,140.05L605.66,141.13L607.22,142.38L609.01,143.69L610.64,144.75L612.20,145.62L613.91,146.42L616.28,147.37L618.73,148.15L621.93,148.94L624.60,149.39L631.06,149.99L643.68,150.91L661.50,152.39" stroke="#D95319" stroke-width="2.0" stroke-dasharray="4 5"/>
<path d="M550.20,439.64L550.35,439.54L550.57,439.03L550.94,437.43L551.68,432.74L551.98,430.36L552.35,426.38L552.72,421.36L553.47,408.56L554.14,394.39L554.95,374.44L557.92,292.43L559.11,262.68L561.63,209.69L562.38,196.37L563.64,176.41L564.31,167.22L564.90,160.54L565.64,154.17L566.53,147.75L567.80,140.27L569.50,131.78L570.77,126.15L571.29,124.22L571.81,122.64L572.70,120.64L573.59,118.95L574.33,117.82L575.07,117.02L576.56,116.16L578.04,115.55L579.38,115.27L579.97,115.24L580.42,115.32L581.01,115.62L581.76,116.20L585.54,119.90L589.70,124.43L594.53,130.00L595.86,131.39L597.50,132.93L604.18,138.77L605.81,140.10L608.41,142.05L610.27,143.34L611.90,144.31L613.46,145.08L615.99,146.11L618.51,146.94L621.70,147.73L624.60,148.25L630.32,148.94L642.12,150.01L661.50,152.01" stroke="#EDB120" stroke-width="2.0" stroke-dasharray="4.5 1.2 0.6 1.2"/>
<path d="M550.20,439.64L550.42,439.49L550.65,439.07L551.09,437.59L551.68,434.73L552.35,430.89L552.72,427.90L553.17,423.40L554.06,411.69L554.88,398.29L555.84,379.95L559.56,299.64L561.11,269.74L562.53,246.65L563.42,233.51L565.27,210.02L566.68,194.60L567.72,185.74L568.76,179.38L569.95,173.78L572.33,164.51L573.37,159.93L574.26,155.13L576.26,142.93L577.08,138.69L578.41,133.01L579.90,127.57L581.68,121.97L583.46,116.99L584.35,114.80L585.25,112.86L586.21,111.03L587.32,109.13L588.51,107.31L589.70,105.68L590.96,104.14L592.23,102.78L593.34,101.75L595.20,100.32L595.86,99.88L596.46,99.61L596.98,99.54L598.02,99.63L599.13,99.88L600.24,100.24L601.06,100.74L602.03,101.60L604.33,103.99L605.74,105.65L610.27,111.74L619.55,123.88L624.38,130.48L626.23,132.84L627.49,134.28L629.72,136.60L631.50,138.32L633.21,139.84L635.44,141.60L637.89,143.21L640.64,144.76L643.53,146.14L649.55,148.67L653.93,150.29L655.93,150.93L657.86,151.46L659.72,151.88L661.50,152.20" stroke="#5E2475" stroke-width="1.9" stroke-dasharray="0.01 2.3" stroke-linecap="round"/>
<path d="M550.20,440.02L550.35,439.91L550.57,439.37L550.94,437.69L551.68,432.74L552.06,429.54L552.80,419.97L553.54,406.74L554.21,392.30L555.03,372.16L557.85,294.34L558.96,266.11L561.41,213.54L562.15,199.90L562.90,188.59L563.86,175.67L564.75,165.41L565.64,156.81L566.68,148.51L569.13,132.08L570.32,124.89L570.92,121.93L571.81,118.04L572.47,115.55L573.07,113.76L573.96,111.55L574.70,109.96L575.30,108.98L575.89,108.36L576.78,107.80L577.60,107.39L578.34,107.13L579.08,107.01L579.60,107.03L580.12,107.19L580.72,107.51L581.46,108.04L582.94,109.29L583.69,110.02L584.65,111.17L585.69,112.59L587.18,114.86L589.18,118.80L589.92,120.09L592.89,123.95L597.87,131.75L600.17,135.09L601.58,136.90L603.07,138.59L604.48,140.05L605.66,141.13L607.22,142.38L609.01,143.69L610.64,144.75L612.20,145.62L613.91,146.42L616.28,147.37L618.73,148.15L621.93,148.94L624.60,149.39L631.06,149.99L643.68,150.91L661.50,152.39" stroke="#77AC30" stroke-width="2.0" stroke-dasharray="4 5" stroke-dashoffset="1.5"/>
<path d="M-6.30,1480.25 L179.20,1480.25 L179.20,1020.65 L364.70,1020.65 L364.70,446.15 L550.20,446.15 L550.20,158.90 L735.70,158.90" stroke="#80cbea" stroke-width="1.05"/>
</g>
<rect x="584.8" y="202.4" width="83.40" height="99.00" fill="#fff" stroke="#707070" stroke-width="1"/>
<line x1="586.6" y1="211.20" x2="607.4" y2="211.20" stroke="#0a62ae" stroke-width="1.5"/>
<line x1="586.6" y1="227.54" x2="607.4" y2="227.54" stroke="#D95319" stroke-width="1.3" stroke-dasharray="4.5 4.5" stroke-dashoffset="-1.5"/>
<line x1="586.6" y1="243.88" x2="607.4" y2="243.88" stroke="#EDB120" stroke-width="1.3" stroke-dasharray="2.6 1 0.8 1"/>
<line x1="586.6" y1="260.22" x2="607.4" y2="260.22" stroke="#5E2475" stroke-width="1.5" stroke-dasharray="1.1 0.6"/>
<line x1="586.6" y1="276.56" x2="607.4" y2="276.56" stroke="#77AC30" stroke-width="1.3" stroke-dasharray="4.5 4.5" stroke-dashoffset="-1.5"/>
<line x1="586.6" y1="292.90" x2="607.4" y2="292.90" stroke="#8fd0ee" stroke-width="0.9"/>
</svg>
<svg width="685" height="352" viewBox="0 0 685 352" style="position:absolute;left:0;top:0;will-change:transform">
<g font-family="&quot;Liberation Sans&quot;, sans-serif" font-size="14.1" fill="#1a1a1a">
<text x="49.50" y="325.8" text-anchor="middle">0</text>
<text x="111.95" y="325.8" text-anchor="middle">0.02</text>
<text x="174.40" y="325.8" text-anchor="middle">0.04</text>
<text x="236.85" y="325.8" text-anchor="middle">0.06</text>
<text x="299.30" y="325.8" text-anchor="middle">0.08</text>
<text x="361.75" y="325.8" text-anchor="middle">0.1</text>
<text x="424.20" y="325.8" text-anchor="middle">0.12</text>
<text x="486.65" y="325.8" text-anchor="middle">0.14</text>
<text x="549.10" y="325.8" text-anchor="middle">0.16</text>
<text x="611.55" y="325.8" text-anchor="middle">0.18</text>
<text x="674.00" y="325.8" text-anchor="middle">0.2</text>
<text x="44.5" y="311.60" text-anchor="end">0</text>
<text x="44.5" y="274.19" text-anchor="end">50</text>
<text x="44.5" y="236.79" text-anchor="end">100</text>
<text x="44.5" y="199.38" text-anchor="end">150</text>
<text x="44.5" y="161.97" text-anchor="end">200</text>
<text x="44.5" y="124.57" text-anchor="end">250</text>
<text x="44.5" y="87.16" text-anchor="end">300</text>
<text x="44.5" y="49.76" text-anchor="end">350</text>
<text x="44.5" y="12.35" text-anchor="end">400</text>
</g>
<text x="361.8" y="344.3" text-anchor="middle" font-family="&quot;Liberation Sans&quot;, sans-serif" font-size="15.3" fill="#1a1a1a">Time (s)</text>
<text transform="translate(15.9,156.2) rotate(-90)" text-anchor="middle" font-family="&quot;Liberation Sans&quot;, sans-serif" font-size="15.5" fill="#1a1a1a">Motor Speed (rad/s)</text>
<g font-family="&quot;Liberation Sans&quot;, sans-serif" font-size="6.4" fill="#262626" stroke="#262626" stroke-width="0.22">
<text x="66.20" y="256.10" text-anchor="middle">2</text>
<text x="88.42" y="256.10" text-anchor="middle">4</text>
<text x="110.64" y="256.10" text-anchor="middle">6</text>
<text x="132.86" y="256.10" text-anchor="middle">8</text>
<text x="155.08" y="256.10" text-anchor="middle">10</text>
<text x="177.30" y="256.10" text-anchor="middle">12</text>
<text x="63.60" y="249.70" text-anchor="end">20</text>
<text x="63.60" y="234.52" text-anchor="end">25</text>
<text x="63.60" y="219.34" text-anchor="end">30</text>
<text x="63.60" y="204.16" text-anchor="end">35</text>
<text x="63.60" y="188.98" text-anchor="end">40</text>
<text x="63.60" y="173.80" text-anchor="end">45</text>
</g>
<g font-family="&quot;Liberation Sans&quot;, sans-serif" font-size="6.4" fill="#262626" stroke="#262626" stroke-width="0.22">
<text x="188.20" y="158.90" text-anchor="middle">0.05</text>
<text x="215.95" y="158.90" text-anchor="middle">0.055</text>
<text x="243.70" y="158.90" text-anchor="middle">0.06</text>
<text x="271.45" y="158.90" text-anchor="middle">0.065</text>
<text x="299.20" y="158.90" text-anchor="middle">0.07</text>
<text x="185.60" y="153.30" text-anchor="end">150</text>
<text x="185.60" y="127.73" text-anchor="end">155</text>
<text x="185.60" y="102.17" text-anchor="end">160</text>
<text x="185.60" y="76.60" text-anchor="end">165</text>
</g>
<g font-family="&quot;Liberation Sans&quot;, sans-serif" font-size="6.4" fill="#262626" stroke="#262626" stroke-width="0.22">
<text x="398.40" y="204.50" text-anchor="middle">0.105</text>
<text x="426.25" y="204.50" text-anchor="middle">0.11</text>
<text x="454.10" y="204.50" text-anchor="middle">0.115</text>
<text x="481.95" y="204.50" text-anchor="middle">0.12</text>
<text x="509.80" y="204.50" text-anchor="middle">0.125</text>
<text x="396.20" y="197.70" text-anchor="end">300</text>
<text x="396.20" y="182.36" text-anchor="end">310</text>
<text x="396.20" y="167.02" text-anchor="end">320</text>
<text x="396.20" y="151.68" text-anchor="end">330</text>
<text x="396.20" y="136.34" text-anchor="end">340</text>
<text x="396.20" y="121.00" text-anchor="end">350</text>
</g>
<g font-family="&quot;Liberation Sans&quot;, sans-serif" font-size="6.4" fill="#262626" stroke="#262626" stroke-width="0.22">
<text x="550.20" y="167.80" text-anchor="middle">0.15</text>
<text x="587.30" y="167.80" text-anchor="middle">0.16</text>
<text x="624.40" y="167.80" text-anchor="middle">0.17</text>
<text x="661.50" y="167.80" text-anchor="middle">0.18</text>
<text x="547.60" y="161.20" text-anchor="end">375</text>
<text x="547.60" y="142.05" text-anchor="end">380</text>
<text x="547.60" y="122.90" text-anchor="end">385</text>
<text x="547.60" y="103.75" text-anchor="end">390</text>
<text x="547.60" y="84.60" text-anchor="end">395</text>
</g>
<text x="176.30" y="266.40" text-anchor="end" font-family="&quot;Liberation Sans&quot;, sans-serif" font-size="6.3" fill="#333">×10<tspan dy="-2.5" font-size="4.8">-3</tspan></text>
<text x="609.4" y="215.80" font-family="&quot;Liberation Sans&quot;, sans-serif" font-size="12.6" fill="#000">PI</text>
<text x="609.4" y="232.14" font-family="&quot;Liberation Sans&quot;, sans-serif" font-size="12.6" fill="#000">NN</text>
<text x="609.4" y="248.48" font-family="&quot;Liberation Sans&quot;, sans-serif" font-size="12.6" fill="#000">LR</text>
<text x="609.4" y="264.82" font-family="&quot;Liberation Sans&quot;, sans-serif" font-size="12.6" fill="#000">LSTM</text>
<text x="609.4" y="281.16" font-family="&quot;Liberation Sans&quot;, sans-serif" font-size="12.6" fill="#000">SVM</text>
<text x="609.4" y="297.50" font-family="&quot;Liberation Sans&quot;, sans-serif" font-size="12.6" fill="#000">Ref.speed</text>
</svg>
</body></html>
